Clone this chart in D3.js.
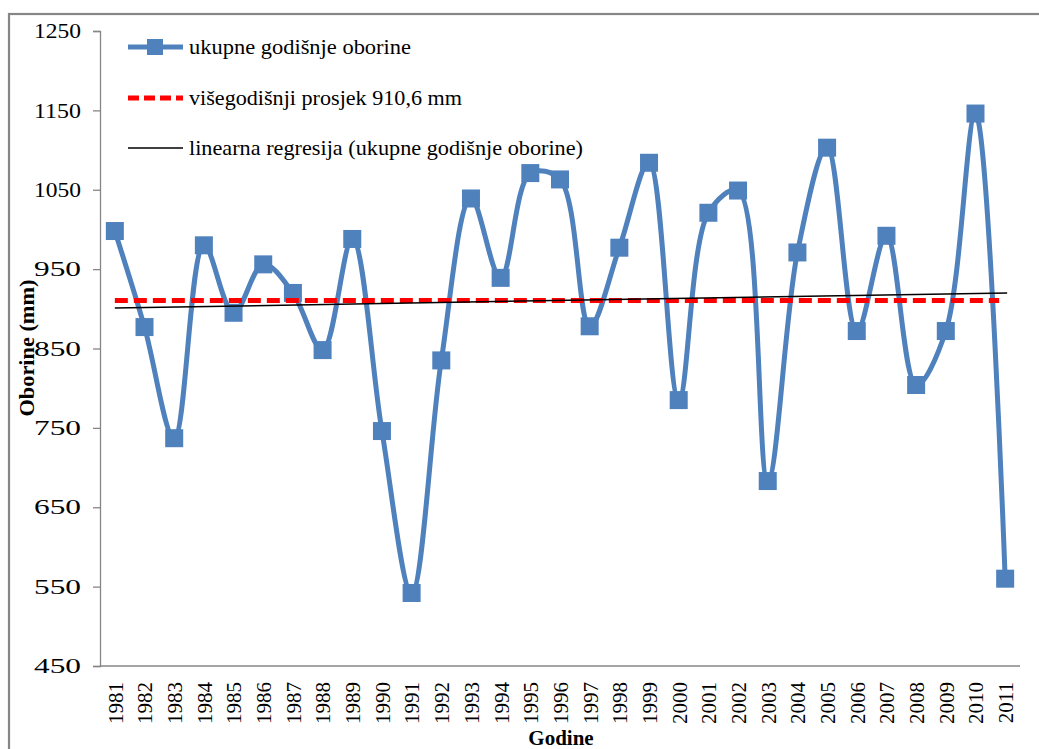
<!DOCTYPE html>
<html>
<head>
<meta charset="utf-8">
<script src="https://cdn.jsdelivr.net/npm/d3@7"></script>
<style>
  html, body { margin: 0; padding: 0; background: #fff; }
  svg { display: block; }
  svg text { font-family: "Liberation Serif", "Times New Roman", serif; }
</style>
</head>
<body>
<svg id="chart" width="1039" height="749"></svg>
<script>
// ---- data ----
const years = ["1981","1982","1983","1984","1985","1986","1987","1988","1989","1990",
  "1991","1992","1993","1994","1995","1996","1997","1998","1999","2000",
  "2001","2002","2003","2004","2005","2006","2007","2008","2009","2010","2011"];
const precipitation = [998, 877, 737, 980, 895, 956, 920, 848, 988, 746,
  542, 835, 1039, 939, 1071, 1063, 878, 977, 1084, 785,
  1021, 1049, 683, 971, 1103, 872, 992, 804, 872, 1146, 560];
const longTermMean = 910.6;
const regressionEnds = [901, 920]; // trend line values at first and last year
const yTicks = [450, 550, 650, 750, 850, 950, 1050, 1150, 1250];
const legendLabels = [
  "ukupne godišnje oborine",
  "višegodišnji prosjek 910,6 mm",
  "linearna regresija (ukupne godišnje oborine)"
];
const yTitle = "Oborine (mm)";
const xTitle = "Godine";

(function () {
const FONT = "Liberation Serif, Times New Roman, serif";
const svg = d3.select("#chart");
const pLeft = 100, pRight = 1020, pTop = 31, pBottom = 666;
const blue = "#4F81BD", axisGray = "#868686";

// outer frame
svg.append("rect").attr("x", 9).attr("y", 14).attr("width", 1060).attr("height", 760)
  .attr("fill", "none").attr("stroke", axisGray).attr("stroke-width", 2.2);

const x = d3.scalePoint().domain(years).range([pLeft, pRight]).padding(0.5);
const y = d3.scaleLinear().domain([450, 1250]).range([pBottom, pTop]);

// y axis
const yAxis = svg.append("g").attr("transform", `translate(${pLeft},0)`)
  .call(d3.axisLeft(y).tickValues(yTicks).tickSize(7).tickPadding(12).tickFormat(d3.format("d")))
  .attr("font-family", FONT);
yAxis.select(".domain").attr("stroke", axisGray).attr("stroke-width", 1.3);
yAxis.selectAll(".tick line").attr("stroke", axisGray).attr("stroke-width", 1.3);
yAxis.selectAll(".tick text").attr("font-size", 21).attr("fill", "#000")
  .attr("font-family", FONT).attr("textLength", 47).attr("lengthAdjust", "spacingAndGlyphs");

// x axis
const xAxis = svg.append("g").attr("transform", `translate(0,${pBottom})`)
  .call(d3.axisBottom(x).tickSize(0).tickPadding(0))
  .attr("font-family", FONT);
xAxis.select(".domain").attr("stroke", axisGray).attr("stroke-width", 1.3)
  .attr("d", `M${pLeft},0H${pRight}`);
xAxis.selectAll(".tick text")
  .attr("font-size", 21).attr("fill", "#000").attr("font-family", FONT)
  .attr("transform", "rotate(-90)")
  .attr("text-anchor", "end")
  .attr("x", -16).attr("y", 0).attr("dy", "0.35em");

// axis titles
svg.append("text").attr("transform", `translate(34,348) rotate(-90)`)
  .attr("font-family", FONT)
  .attr("text-anchor", "middle").attr("font-size", 21).attr("font-weight", "bold")
  .attr("textLength", 137).attr("lengthAdjust", "spacingAndGlyphs")
  .text(yTitle);
svg.append("text").attr("x", 561).attr("y", 745)
  .attr("font-family", FONT)
  .attr("text-anchor", "middle").attr("font-size", 21).attr("font-weight", "bold")
  .text(xTitle);

// series line (smoothed)
const pts = years.map((yr, i) => [x(yr), y(precipitation[i])]);
svg.append("path").attr("d", d3.line().curve(d3.curveCatmullRom.alpha(0.5))(pts))
  .attr("fill", "none").attr("stroke", blue).attr("stroke-width", 5)
  .attr("stroke-linejoin", "round");

// markers
const ms = 18;
svg.append("g").selectAll("rect").data(years).join("rect")
  .attr("x", (d, i) => x(d) - ms / 2).attr("y", (d, i) => y(precipitation[i]) - ms / 2)
  .attr("width", ms).attr("height", ms).attr("fill", blue);

// long-term mean (dashed red)
svg.append("line")
  .attr("x1", x(years[0])).attr("x2", x(years[years.length - 1]) - 6)
  .attr("y1", y(longTermMean)).attr("y2", y(longTermMean))
  .attr("stroke", "#FF0000").attr("stroke-width", 5).attr("stroke-dasharray", "13,6");

// regression line
svg.append("line")
  .attr("x1", x(years[0])).attr("x2", x(years[years.length - 1]) + 2)
  .attr("y1", y(regressionEnds[0])).attr("y2", y(regressionEnds[1]))
  .attr("stroke", "#000").attr("stroke-width", 1.5);

// legend
const legY = [47, 98, 148];
const legWidths = [222, 273, 394];
const lg = svg.append("g");
lg.append("line").attr("x1", 128).attr("x2", 183).attr("y1", legY[0]).attr("y2", legY[0])
  .attr("stroke", blue).attr("stroke-width", 5);
lg.append("rect").attr("x", 155 - 8).attr("y", legY[0] - 8).attr("width", 16).attr("height", 16).attr("fill", blue);
lg.append("line").attr("x1", 128).attr("x2", 183).attr("y1", legY[1]).attr("y2", legY[1])
  .attr("stroke", "#FF0000").attr("stroke-width", 5).attr("stroke-dasharray", "11,5");
lg.append("line").attr("x1", 128).attr("x2", 183).attr("y1", legY[2]).attr("y2", legY[2])
  .attr("stroke", "#000").attr("stroke-width", 1.5);
legendLabels.forEach((t, i) => {
  lg.append("text").attr("x", 189).attr("y", legY[i]).attr("dy", "0.33em")
    .attr("font-family", FONT)
    .attr("font-size", 21).attr("textLength", legWidths[i]).attr("lengthAdjust", "spacingAndGlyphs")
    .text(t);
});
})();
</script>
</body>
</html>
